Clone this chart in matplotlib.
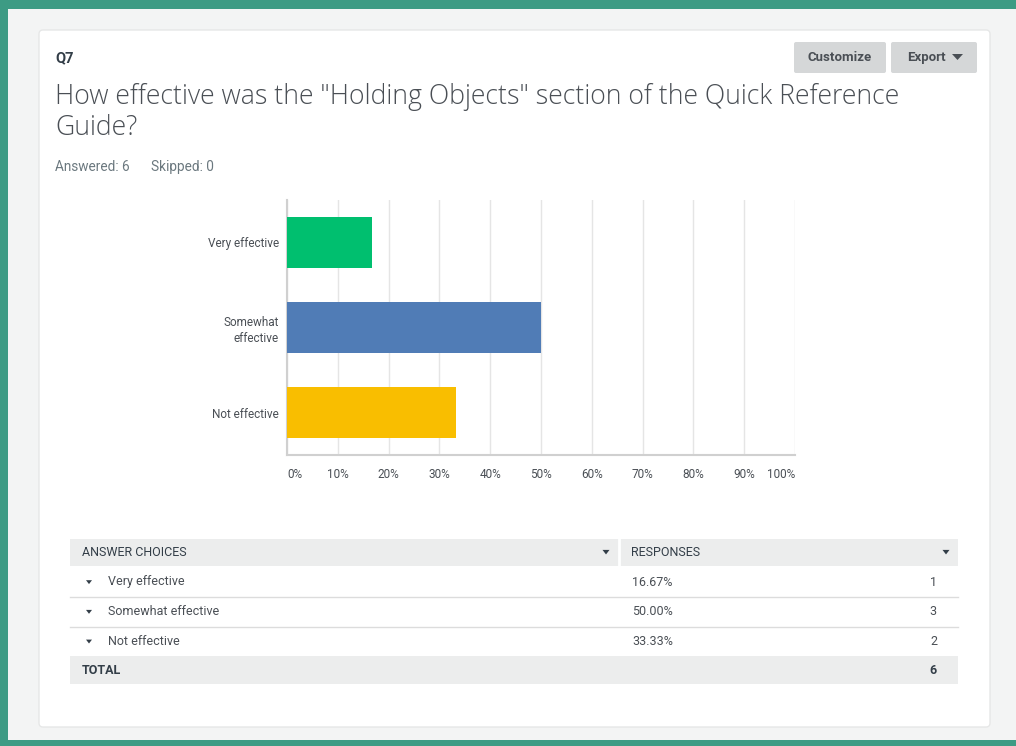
import matplotlib
matplotlib.use("Agg")
import matplotlib.pyplot as plt
from matplotlib.patches import Rectangle, FancyBboxPatch, Polygon

plt.rcParams['font.family'] = ['Roboto', 'DejaVu Sans']

# ---- data ----
categories = ["Very effective", "Somewhat\neffective", "Not effective"]
table_labels = ["Very effective", "Somewhat effective", "Not effective"]
percents = [16.67, 50.00, 33.33]
counts = [1, 3, 2]
total = 6
answered = 6
skipped = 0
bar_colors = ["#00bf6f", "#507cb6", "#f9be00"]
xticks = [0, 10, 20, 30, 40, 50, 60, 70, 80, 90, 100]
xtick_labels = [f"{t}%" for t in xticks]
question_id = "Q7"
question = 'How effective was the "Holding Objects" section of the Quick Reference\nGuide?'

W, H = 1016, 746
fig = plt.figure(figsize=(W / 100, H / 100), dpi=100)
bg = fig.add_axes([0, 0, 1, 1])
bg.set_xlim(0, W)
bg.set_ylim(H, 0)
bg.axis("off")

# page background and border
bg.add_patch(Rectangle((0, 0), W, H, facecolor="#f3f4f4", edgecolor="none"))
green = "#3d9b84"
bg.add_patch(Rectangle((0, 0), W, 9, facecolor=green, edgecolor="none"))
bg.add_patch(Rectangle((0, 0), 8, H, facecolor=green, edgecolor="none"))
bg.add_patch(Rectangle((0, 740), W, 6, facecolor=green, edgecolor="none"))
# card
bg.add_patch(FancyBboxPatch((39, 30), 951, 697, boxstyle="round,pad=0,rounding_size=4",
                            facecolor="white", edgecolor="#e6e7e7", linewidth=1))

# header texts
bg.text(55, 58, question_id, fontsize=10.5, fontweight="bold", color="#333e48", va="center")
bg.text(55, 112.5, question, fontsize=19.2, color="#4a4f55", va="center", linespacing=1.17,
        family=["Open Sans", "DejaVu Sans"], fontweight="light")
bg.text(55, 167, f"Answered: {answered}", fontsize=9.8, color="#6b787f", va="center")
bg.text(151, 167, f"Skipped: {skipped}", fontsize=9.8, color="#6b787f", va="center")

# buttons
bg.add_patch(FancyBboxPatch((794, 42), 92, 31, boxstyle="round,pad=0,rounding_size=2",
                            facecolor="#d5d7d8", edgecolor="none"))
bg.add_patch(FancyBboxPatch((891, 42), 86, 31, boxstyle="round,pad=0,rounding_size=2",
                            facecolor="#d5d7d8", edgecolor="none"))
bg.text(840, 57.5, "Customize", fontsize=9.5, fontweight="bold", color="#4a4f55", ha="center", va="center")
bg.text(926, 57.5, "Export", fontsize=9.5, fontweight="bold", color="#4a4f55", ha="center", va="center")
bg.add_patch(Polygon([[952, 54], [963, 54], [957.5, 60]], closed=True, facecolor="#4a4f55", edgecolor="none"))

# ---- bar chart ----
ax_l, ax_r, ax_t, ax_b = 287, 795, 200, 455
ax = fig.add_axes([ax_l / W, 1 - ax_b / H, (ax_r - ax_l) / W, (ax_b - ax_t) / H])
ypos = list(range(len(categories)))
ax.barh(ypos, percents, height=0.61, color=bar_colors, zorder=3)
ax.set_xlim(0, 100)
ax.set_ylim(2.5, -0.5)
ax.set_xticks(xticks)
ax.set_xticklabels(xtick_labels)
ax.set_yticks(ypos)
ax.set_yticklabels(categories, linespacing=1.3)
ax.tick_params(axis="both", length=0, labelsize=8.5, colors="#4a4f55")
ax.tick_params(axis="x", pad=9)
ax.tick_params(axis="y", pad=6)
labels = ax.get_xticklabels()
labels[0].set_horizontalalignment("left")
labels[-1].set_horizontalalignment("right")
ax.grid(axis="x", color="#e5e5e5", linewidth=1, zorder=0)
for s in ["top", "right"]:
    ax.spines[s].set_visible(False)
for s in ["left", "bottom"]:
    ax.spines[s].set_color("#d0d0d0")
    ax.spines[s].set_linewidth(1.5)

# ---- table ----
tx0, tx1, tsplit = 70, 958, 619
bg.add_patch(Rectangle((tx0, 539), tx1 - tx0, 27, facecolor="#eceded", edgecolor="none"))
bg.plot([tsplit, tsplit], [539, 566], color="white", linewidth=2)
bg.text(82, 552.5, "ANSWER CHOICES", fontsize=9, color="#333e48", va="center")
bg.text(631, 552.5, "RESPONSES", fontsize=9, color="#333e48", va="center")


def tri(x, y, s=3.5, c="#333e48"):
    bg.add_patch(Polygon([[x - s, y - s * 0.6], [x + s, y - s * 0.6], [x, y + s * 0.7]],
                         closed=True, facecolor=c, edgecolor="none"))


tri(606, 552)
tri(946, 552)
row_h = 29.7
for i, (lab, p, c) in enumerate(zip(table_labels, percents, counts)):
    yc = 582 + i * row_h
    tri(89, yc, 3)
    bg.text(108, yc, lab, fontsize=9, color="#4a4f55", va="center")
    bg.text(632, yc, f"{p:.2f}%", fontsize=9, color="#4a4f55", va="center")
    bg.text(937, yc, str(c), fontsize=9, color="#4a4f55", va="center", ha="right")
    if i < len(table_labels) - 1:
        bg.plot([tx0, tx1], [597 + i * row_h, 597 + i * row_h], color="#dcdcdc", linewidth=1)
bg.add_patch(Rectangle((tx0, 656), tx1 - tx0, 28, facecolor="#eceded", edgecolor="none"))
bg.text(82, 670, "TOTAL", fontsize=9, fontweight="bold", color="#333e48", va="center")
bg.text(937, 670, str(total), fontsize=9, fontweight="bold", color="#333e48", va="center", ha="right")

fig.savefig("out.png", dpi=100)
